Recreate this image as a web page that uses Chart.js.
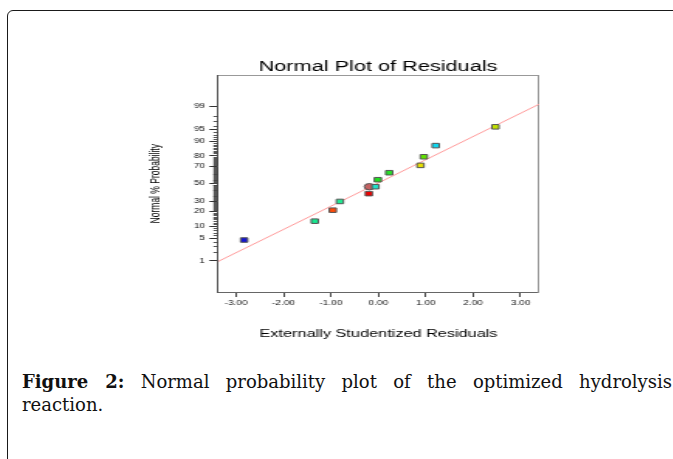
<!DOCTYPE html>
<html><head><meta charset="utf-8">
<script src="https://cdn.jsdelivr.net/npm/chart.js@4.4.1/dist/chart.umd.min.js"></script>
<style>
html,body{margin:0;padding:0;background:#fff;width:673px;height:459px;overflow:hidden;position:relative;}
#frame{position:absolute;left:7px;top:10px;width:720px;height:520px;border:1.5px solid #1a1a1a;border-radius:6px;box-sizing:border-box;}
#wrap{position:absolute;left:130px;top:0;width:350px;height:350px;transform:scaleX(1.55);transform-origin:0 0;}
#caption{position:absolute;left:22px;top:370px;width:650px;font-family:'DejaVu Serif',serif;font-size:18px;line-height:23px;color:#111;}
#caption .l1{text-align:justify;text-align-last:justify;white-space:nowrap;}
</style></head>
<body>
<div id="frame"></div>
<div id="wrap"><canvas id="c" width="350" height="350"></canvas></div>
<div id="caption"><div class="l1"><b>Figure 2:</b> Normal probability plot of the optimized hydrolysis</div><div>reaction.</div></div>
<script>
// ---- data ----
const residuals = [-2.83, -1.34, -0.96, -0.81, -0.20, -0.19, -0.06, -0.01, 0.23, 0.89, 0.96, 1.21, 2.47];
const probabilities = [4.45, 12.9, 21.2, 29.6, 38.2, 46.4, 46.4, 54.8, 63.0, 71.0, 79.2, 87.5, 95.7];
const fitLineResiduals = [-3.38, 3.39];
const fitLineProbabilities = [0.94, 99.18];
const xTickValues = [-3, -2, -1, 0, 1, 2, 3];
const yTickProbabilities = [1, 5, 10, 20, 30, 50, 70, 80, 90, 95, 99];
const yTickLabels = ['1', '5', '10', '20', '30', '50', '70', '80', '90', '95', '99'];
const yMinorProbabilities = [2,3,4,6,7,8,9,11,12,13,14,15,16,17,18,19,21,22,23,24,25,26,27,28,29,31,32,33,34,35,36,37,38,39,40,41,42,43,44,45,46,47,48,49,51,52,53,54,55,56,57,58,59,60,61,62,63,64,65,66,67,68,69,71,72,73,74,75,76,77,78,79,81,82,83,84,85,86,87,88,89,91,92,93,94,96,97,98];

// ---- point styles ----
const pointColors = ['#1414d0','#18e890','#ff4a08','#20e890','#f00000','#c46262','#20e0c8','#20e020','#28e028','#e8e000','#60e000','#10d8f0','#c0e000'];
const pointShapes = ['rect','rect','rect','rect','rect','circle','rect','rect','rect','rect','rect','rect','rect'];

// inverse normal CDF (probability scale), percent -> z
function probit(pct){
  const p = pct/100;
  const a=[-3.969683028665376e+01,2.209460984245205e+02,-2.759285104469687e+02,1.383577518672690e+02,-3.066479806614716e+01,2.506628277459239e+00];
  const b=[-5.447609879822406e+01,1.615858368580409e+02,-1.556989798598866e+02,6.680131188771972e+01,-1.328068155288572e+01];
  const c=[-7.784894002430293e-03,-3.223964580411365e-01,-2.400758277161838e+00,-2.549732539343734e+00,4.374664141464968e+00,2.938163982698783e+00];
  const d=[7.784695709041462e-03,3.224671290700398e-01,2.445134137142996e+00,3.754408661907416e+00];
  const pl=0.02425, ph=1-pl; let q,r;
  if(p<pl){q=Math.sqrt(-2*Math.log(p));return (((((c[0]*q+c[1])*q+c[2])*q+c[3])*q+c[4])*q+c[5])/((((d[0]*q+d[1])*q+d[2])*q+d[3])*q+1);}
  if(p>ph){q=Math.sqrt(-2*Math.log(1-p));return -(((((c[0]*q+c[1])*q+c[2])*q+c[3])*q+c[4])*q+c[5])/((((d[0]*q+d[1])*q+d[2])*q+d[3])*q+1);}
  q=p-0.5;r=q*q;return (((((a[0]*r+a[1])*r+a[2])*r+a[3])*r+a[4])*r+a[5])*q/(((((b[0]*r+b[1])*r+b[2])*r+b[3])*r+b[4])*r+1);
}

const points = residuals.map((x,i)=>({x:x, y:probit(probabilities[i])}));
const fitLine = fitLineResiduals.map((x,i)=>({x:x, y:probit(fitLineProbabilities[i])}));

Chart.defaults.font.family = "'Liberation Sans', Arial, sans-serif";

const minorTicks = {
  id:'minorTicks',
  afterDraw(chart){
    const s = chart.scales.y, c = chart.ctx;
    c.save(); c.strokeStyle='#444'; c.lineWidth=0.9; c.beginPath();
    yMinorProbabilities.forEach(p=>{
      const y = Math.round(s.getPixelForValue(probit(p)))+0.5;
      c.moveTo(s.right-3, y); c.lineTo(s.right, y);
    });
    c.stroke(); c.restore();
  }
};

new Chart(document.getElementById('c'), {
  type:'scatter',
  data:{datasets:[
    {type:'line', data:fitLine, borderColor:'#ff9a9a', borderWidth:1, pointRadius:0, fill:false, order:2},
    {data:points, pointStyle:pointShapes, backgroundColor:pointColors, borderColor:'#555', borderWidth:1, pointRadius:3.2, order:1}
  ]},
  options:{
    responsive:false, animation:false, devicePixelRatio:1,
    layout:{padding:{left:5, right:35, top:58, bottom:8}},
    plugins:{
      legend:{display:false}, tooltip:{enabled:false},
      title:{display:true, text:'Normal Plot of Residuals', color:'#000', font:{size:14, weight:'normal'}, padding:{top:0.6, bottom:0}}
    },
    scales:{
      x:{type:'linear', position:'bottom', min:-3.38, max:3.39,
         afterBuildTicks:s=>{s.ticks = xTickValues.map(v=>({value:v}));},
         ticks:{callback:v=>Number(v).toFixed(2), font:{size:6.5}, color:'#111', padding:2.5, maxRotation:0, autoSkip:false},
         grid:{drawOnChartArea:false, tickLength:5, color:'#444'},
         border:{color:'#666', width:1},
         title:{display:true, text:'Externally Studentized Residuals', color:'#000', font:{size:10.5}, padding:{top:0, bottom:2}},
         afterFit:s=>{s.height=50;}},
      xTop:{type:'linear', position:'top', min:-3.38, max:3.39,
         ticks:{display:false}, grid:{display:false, drawTicks:false}, border:{color:'#999', width:1},
         afterFit:s=>{s.height=0;}},
      y:{type:'linear', position:'left', min:-3.27, max:3.27,
         afterBuildTicks:s=>{s.ticks = yTickProbabilities.map(p=>({value:probit(p)}));},
         ticks:{callback:(v,i)=>yTickLabels[i], font:{size:6.5}, color:'#111', padding:2.8, autoSkip:false},
         grid:{drawOnChartArea:false, tickLength:5.6, color:'#333'},
         border:{color:'#555', width:1},
         title:{display:true, text:'Normal % Probability', color:'#000', font:{size:8.5}, padding:{top:7, bottom:0}},
         afterFit:s=>{s.width=51.8;}},
      yRight:{type:'linear', position:'right', min:-3.27, max:3.27,
         ticks:{display:false}, grid:{display:false, drawTicks:false}, border:{color:'#999', width:1},
         afterFit:s=>{s.width=51.1;}}
    }
  },
  plugins:[minorTicks]
});
</script>
</body></html>
